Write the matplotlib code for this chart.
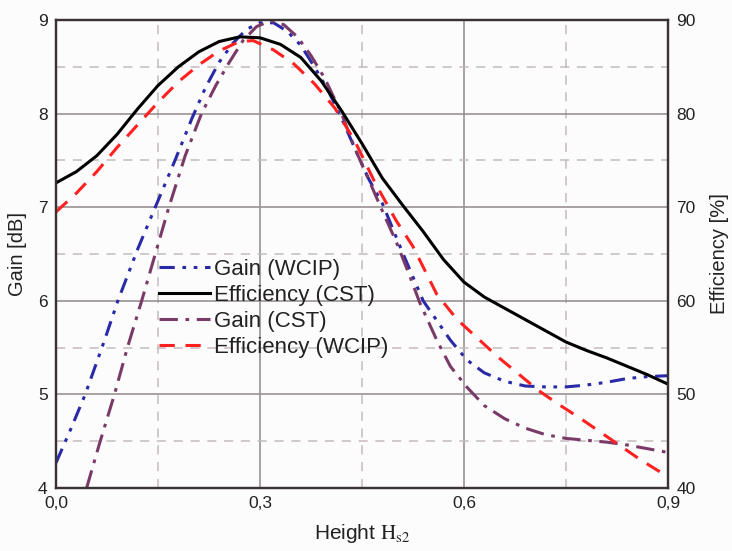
import numpy as np
import matplotlib
matplotlib.use("Agg")
import matplotlib.pyplot as plt
from matplotlib.ticker import FuncFormatter

plt.rcParams['font.family'] = ['Liberation Sans', 'DejaVu Sans']
plt.rcParams['mathtext.fontset'] = 'stix'

# Gain (WCIP) [dB]
x_gain_wcip = [0, 0.02, 0.043, 0.07, 0.091, 0.12, 0.146, 0.175, 0.2, 0.22, 0.24, 0.26,
               0.28, 0.3, 0.32, 0.34, 0.36, 0.38, 0.4, 0.42, 0.44, 0.46, 0.48, 0.51,
               0.54, 0.58, 0.604, 0.63, 0.66, 0.69, 0.72, 0.75, 0.78, 0.81, 0.84, 0.87, 0.9]
gain_wcip = [4.27, 4.6, 5.0, 5.55, 6.0, 6.55, 7.0, 7.5, 7.95, 8.28, 8.55, 8.75,
             8.9, 8.97, 8.97, 8.88, 8.73, 8.5, 8.25, 7.95, 7.62, 7.3, 7.04, 6.51,
             6.0, 5.58, 5.37, 5.23, 5.14, 5.09, 5.08, 5.08, 5.1, 5.13, 5.17, 5.19, 5.2]

# Gain (CST) [dB]
x_gain_cst = [0.045, 0.055, 0.065, 0.086, 0.105, 0.126, 0.146, 0.166, 0.19, 0.214, 0.235,
              0.255, 0.275, 0.295, 0.315, 0.335, 0.355, 0.375, 0.395, 0.42, 0.44, 0.462,
              0.48, 0.501, 0.52, 0.535, 0.56, 0.58, 0.604, 0.63, 0.66, 0.69, 0.72, 0.75,
              0.78, 0.81, 0.84, 0.87, 0.9]
gain_cst = [4.0, 4.25, 4.5, 5.0, 5.5, 6.0, 6.5, 7.0, 7.55, 8.0, 8.3,
            8.55, 8.78, 8.93, 8.99, 8.95, 8.82, 8.62, 8.38, 8.0, 7.62, 7.26,
            6.96, 6.62, 6.27, 5.98, 5.58, 5.3, 5.08, 4.88, 4.74, 4.64, 4.57, 4.53,
            4.51, 4.49, 4.46, 4.42, 4.38]

# Efficiency (CST) [%]
x_eff_cst = [0, 0.03, 0.06, 0.09, 0.12, 0.15, 0.18, 0.21, 0.24, 0.27, 0.3, 0.33, 0.36,
             0.39, 0.42, 0.45, 0.48, 0.51, 0.54, 0.57, 0.6, 0.63, 0.66, 0.69, 0.72,
             0.75, 0.78, 0.81, 0.84, 0.87, 0.9]
eff_cst = [72.6, 73.8, 75.5, 77.8, 80.5, 83.0, 85.0, 86.6, 87.7, 88.2, 88.1, 87.4, 86.0,
           83.5, 80.3, 76.8, 73.1, 70.2, 67.4, 64.4, 62.0, 60.4, 59.2, 58.0, 56.8,
           55.6, 54.7, 53.9, 53.0, 52.1, 51.1]

# Efficiency (WCIP) [%]
x_eff_wcip = [0, 0.03, 0.06, 0.09, 0.12, 0.15, 0.18, 0.21, 0.24, 0.27, 0.29, 0.32, 0.35,
              0.38, 0.41, 0.44, 0.47, 0.5, 0.525, 0.56, 0.59, 0.62, 0.65, 0.68, 0.71,
              0.74, 0.77, 0.8, 0.83, 0.86, 0.9]
eff_wcip = [69.5, 71.5, 73.8, 76.4, 78.8, 81.2, 83.4, 85.2, 86.7, 87.7, 87.8, 86.8, 85.3,
            83.2, 80.6, 77.0, 72.5, 68.6, 65.8, 60.7, 58.0, 56.0, 54.0, 52.2, 50.4,
            48.9, 47.5, 46.0, 44.5, 43.0, 41.2]

x_ticks = [0.0, 0.3, 0.6, 0.9]

fig = plt.figure(figsize=(7.32, 5.51), dpi=100)
fig.patch.set_facecolor('#fcfcfc')
ax = fig.add_axes([0.0765, 0.1143, 0.836, 0.8494])
ax.set_facecolor('#fcfcfc')
ax2 = ax.twinx()

# grid
ax.set_xlim(0, 0.9)
ax.set_ylim(4, 9)
ax2.set_ylim(40, 90)
for xv in [0.15, 0.45, 0.75]:
    ax.axvline(xv, color='#c4bcbc', lw=1.1, ls=(0, (6, 5)), zorder=0)
for xv in [0.3, 0.6]:
    ax.axvline(xv, color='#9a9292', lw=1.2, zorder=0)
for yv in [4.5, 5.5, 6.5, 7.5, 8.5]:
    ax.axhline(yv, color='#c4bcbc', lw=1.1, ls=(0, (6, 5)), zorder=0)
for yv in [5, 6, 7, 8]:
    ax.axhline(yv, color='#9a9292', lw=1.2, zorder=0)

l1, = ax.plot(x_gain_wcip, gain_wcip, color='#2a2aa8', lw=2.2,
              ls=(0, (5, 2.5, 1.2, 2.5, 1.2, 2.5)), label='Gain (WCIP)')
l3, = ax.plot(x_gain_cst, gain_cst, color='#7a3a68', lw=2.2,
              ls=(0, (6, 2.5, 1.2, 2.5)), label='Gain (CST)')
l2, = ax2.plot(x_eff_cst, eff_cst, color='black', lw=2.2, label='Efficiency (CST)')
l4, = ax2.plot(x_eff_wcip, eff_wcip, color='#ff2020', lw=2.2,
               ls=(0, (5, 3.5)), label='Efficiency (WCIP)')

ax.set_xticks(x_ticks)
ax.xaxis.set_major_formatter(FuncFormatter(lambda v, p: f"{v:.1f}".replace('.', ',')))
ax.set_yticks([4, 5, 6, 7, 8, 9])
ax2.set_yticks([40, 50, 60, 70, 80, 90])
ax.tick_params(length=0, labelsize=12.5, colors='#222222', pad=6)
ax2.tick_params(length=0, labelsize=12.5, colors='#222222', pad=6)

for a in (ax, ax2):
    for s in a.spines.values():
        s.set_color('#3a3333')
        s.set_linewidth(1.6)

ax.set_xlabel(r"Height $\mathrm{H_{s2}}$", fontsize=15, color='#222222', labelpad=8)
ax.set_ylabel("Gain [dB]", fontsize=14.5, color='#222222', labelpad=8)
ax2.set_ylabel("Efficiency [%]", fontsize=14.5, color='#222222', labelpad=10)

leg = ax.legend(handles=[l1, l2, l3, l4], loc='upper left',
                bbox_to_anchor=(0.153, 0.508), frameon=False, fontsize=16,
                handlelength=2.3, handletextpad=0.2, labelspacing=0.22,
                borderaxespad=0)
for t in leg.get_texts():
    t.set_color('#222222')

fig.savefig("out.png", dpi=100, facecolor=fig.get_facecolor())
